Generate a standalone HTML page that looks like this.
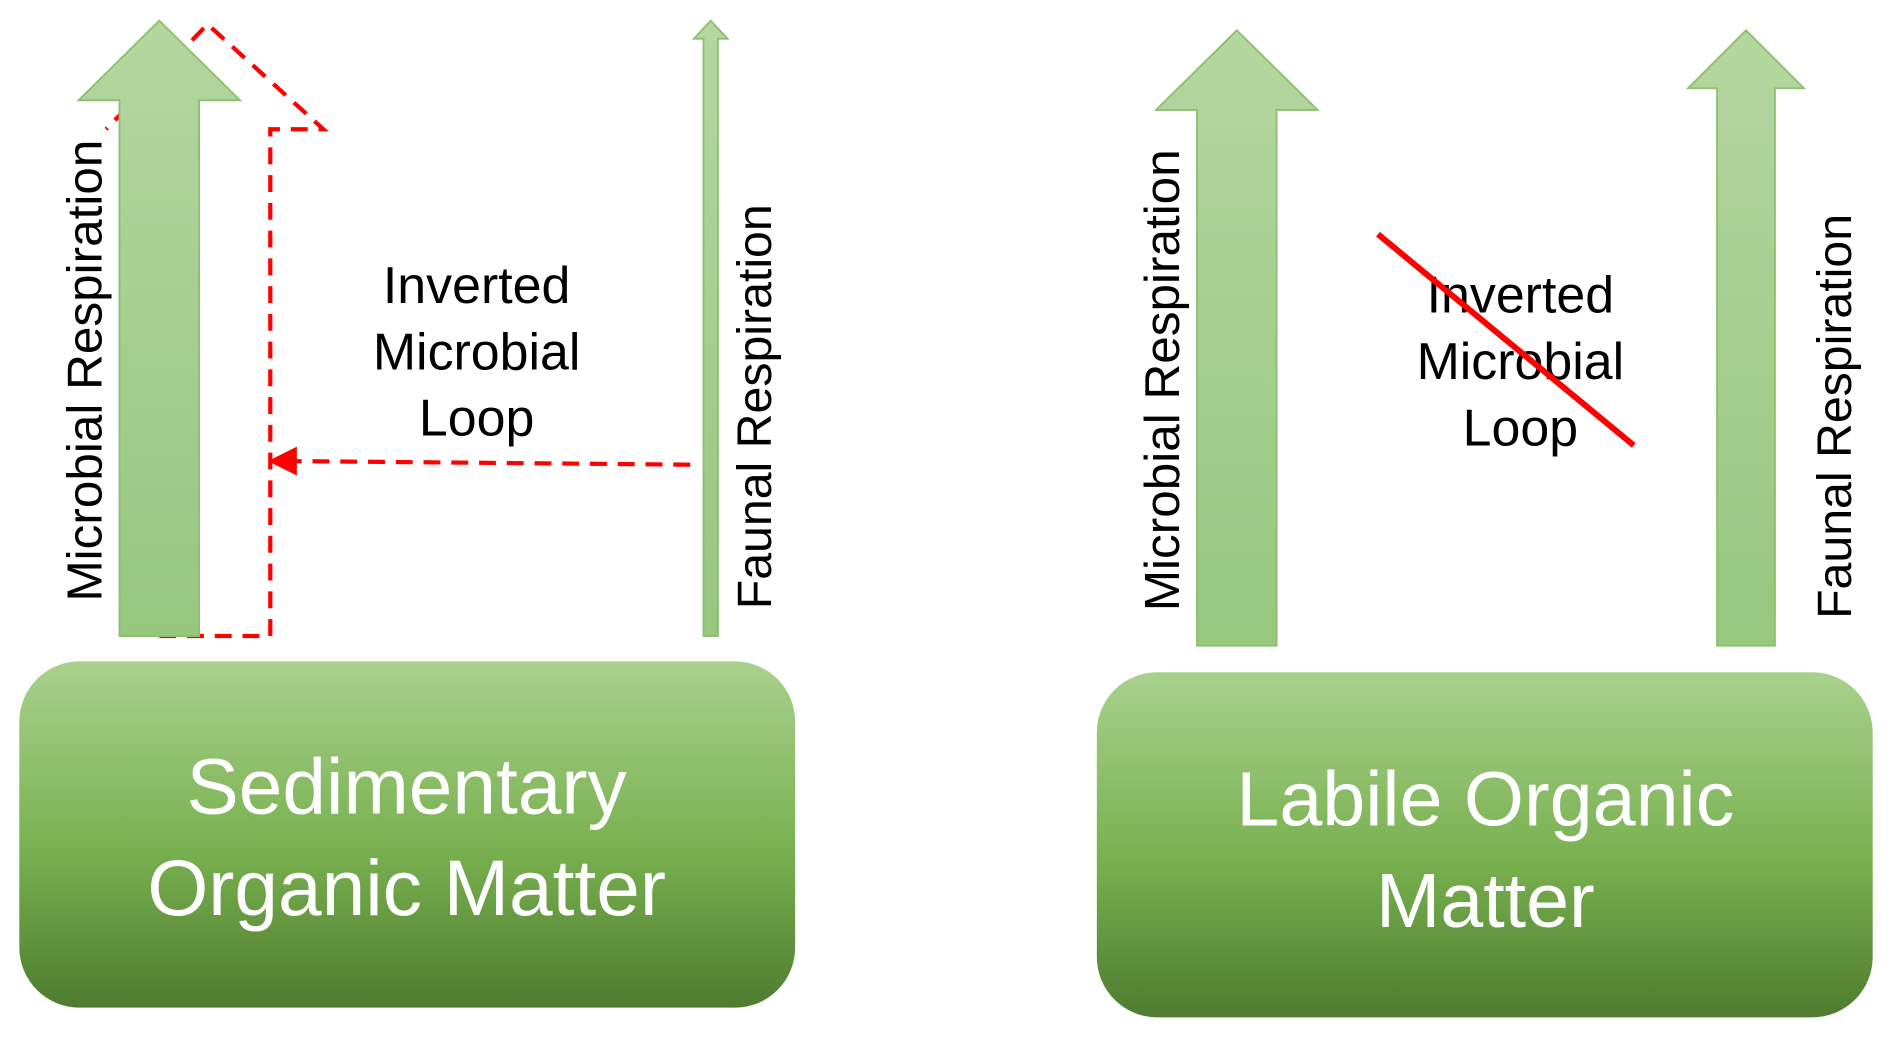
<!DOCTYPE html>
<html><head><style>html,body{margin:0;padding:0;background:#fff;}svg{display:block}</style></head>
<body>
<svg width="1892" height="1038" viewBox="0 0 1568 860" xmlns="http://www.w3.org/2000/svg" font-family="Liberation Sans, sans-serif">
<defs>
<linearGradient id="ga" x1="0" y1="0" x2="0" y2="1"><stop offset="0" stop-color="#b4d6a0"/><stop offset="1" stop-color="#97c77f"/></linearGradient>
<linearGradient id="gb" x1="0" y1="0" x2="0" y2="1"><stop offset="0" stop-color="#a9d18e"/><stop offset="0.55" stop-color="#78b04f"/><stop offset="1" stop-color="#4f7c30"/></linearGradient>
</defs>
<path d="M132,527 L224,527 L224,107 L268,107 L172,20 L88,107" fill="none" stroke="#ff0000" stroke-width="3.5" stroke-dasharray="14,9"/>
<path d="M99,527 L99,83 L65,83 L132,17 L199,83 L165,83 L165,527 Z" fill="url(#ga)" stroke="#8cbf6e" stroke-width="1.5"/>
<path d="M583,527 L583,32 L575,32 L589,17 L603,32 L595,32 L595,527 Z" fill="url(#ga)" stroke="#8cbf6e" stroke-width="1.5"/>
<line x1="572" y1="385" x2="240" y2="382" stroke="#ff0000" stroke-width="3.5" stroke-dasharray="14,9"/>
<polygon points="222,382 246,370 246,394" fill="#ff0000"/>
<text transform="translate(84,307) rotate(-90)" text-anchor="middle" font-size="41">Microbial Respiration</text>
<text transform="translate(639,337) rotate(-90)" text-anchor="middle" font-size="40">Faunal Respiration</text>
<g font-size="43" text-anchor="middle"><text x="395" y="251">Inverted</text><text x="395" y="306">Microbial</text><text x="395" y="361">Loop</text></g>
<rect x="16" y="548" width="643" height="287" rx="50" fill="url(#gb)"/>
<g font-size="65" fill="#fff" text-anchor="middle"><text x="337" y="674">Sedimentary</text><text x="337" y="758">Organic Matter</text></g>
<path d="M992,535 L992,91 L958,91 L1025,25 L1092,91 L1058,91 L1058,535 Z" fill="url(#ga)" stroke="#8cbf6e" stroke-width="1.5"/>
<path d="M1423,535 L1423,73 L1399,73 L1447,25 L1495,73 L1471,73 L1471,535 Z" fill="url(#ga)" stroke="#8cbf6e" stroke-width="1.5"/>
<text transform="translate(977,315) rotate(-90)" text-anchor="middle" font-size="41">Microbial Respiration</text>
<text transform="translate(1534,345) rotate(-90)" text-anchor="middle" font-size="40">Faunal Respiration</text>
<g font-size="43" text-anchor="middle"><text x="1260" y="259">Inverted</text><text x="1260" y="314">Microbial</text><text x="1260" y="369">Loop</text></g>
<line x1="1142" y1="194" x2="1354" y2="369" stroke="#ff0000" stroke-width="5"/>
<rect x="909" y="557" width="643" height="286" rx="50" fill="url(#gb)"/>
<g font-size="64" fill="#fff" text-anchor="middle"><text x="1231" y="684">Labile Organic</text><text x="1231" y="768">Matter</text></g>
</svg>
</body></html>
